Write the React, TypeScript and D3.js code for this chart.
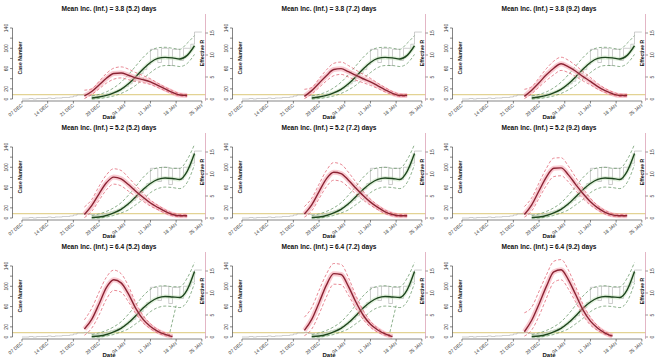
import React from 'react';
import * as d3 from 'd3';

const parse = d3.timeParse('%Y-%m-%d');

// panel titles
const incubation = ['3.8', '5.2', '6.4'];
const infectious = ['5.2', '7.2', '9.2'];

// axes
const dateTicks = ['2019-12-07', '2019-12-14', '2019-12-21', '2019-12-28', '2020-01-04', '2020-01-11', '2020-01-18', '2020-01-25'];
const dateTickLabels = ['07 DEC', '14 DEC', '21 DEC', '28 DEC', '04 JAN', '11 JAN', '18 JAN', '25 JAN'];
const caseTicks = [0, 20, 40, 60, 80, 100, 120, 140];
const caseTickLabels = [0, 20, 60, 100, 140];
const rTicks = [0, 5, 10, 15];

// observed daily cases, 07 Dec 2019 .. 25 Jan 2020
const observedStart = '2019-12-07';
const observedCases = [
  0, 0, 1, 0, 1, 1, 1, 2, 1, 2, 2, 3, 3, 4, 6, 8, 8, 9, 7, 6, 5, 6, 8, 10, 12,
  14, 17, 21, 25, 30, 35, 42, 50, 58, 68, 98, 98, 72, 100, 100, 66, 98, 98, 76, 100, 100, 108, 132, 132, 132,
];

// effective R estimates (mid / upper / lower), sampled every two days
const rDates = ['2019-12-24', '2019-12-26', '2019-12-28', '2019-12-30', '2020-01-01', '2020-01-03', '2020-01-05', '2020-01-07', '2020-01-09', '2020-01-11', '2020-01-13', '2020-01-15', '2020-01-17', '2020-01-19', '2020-01-21'];

const rMid11 = [0.7, 1.7, 3.2, 4.7, 5.8, 5.9, 5.4, 4.8, 4.4, 3.9, 3.1, 2.3, 1.5, 0.9, 0.8];
const rUp11 = [2.0, 2.3, 4.0, 5.8, 7.0, 7.3, 6.8, 6.0, 5.3, 4.6, 3.6, 2.7, 1.9, 1.2, 1.0];
const rLo11 = [0.1, 1.0, 2.3, 3.6, 4.5, 4.8, 4.4, 4.0, 3.7, 3.3, 2.6, 1.9, 1.2, 0.7, 0.6];
const rMid12 = [0.6, 1.9, 3.6, 5.3, 6.7, 6.9, 6.2, 5.4, 4.6, 3.9, 3.0, 2.1, 1.3, 0.8, 0.8];
const rUp12 = [2.2, 2.6, 4.6, 6.6, 8.1, 8.4, 7.6, 6.6, 5.6, 4.7, 3.6, 2.6, 1.7, 1.1, 1.0];
const rLo12 = [0.1, 1.1, 2.6, 4.1, 5.3, 5.6, 5.0, 4.3, 3.7, 3.1, 2.4, 1.6, 1.0, 0.6, 0.6];
const rMid13 = [0.6, 2.0, 3.7, 5.5, 7.0, 8.0, 7.3, 6.3, 5.1, 4.0, 2.8, 1.9, 1.2, 0.8, 0.8];
const rUp13 = [2.2, 2.8, 4.8, 6.9, 8.6, 9.5, 8.8, 7.6, 6.2, 4.9, 3.5, 2.4, 1.6, 1.1, 1.0];
const rLo13 = [0.1, 1.2, 2.7, 4.2, 5.5, 6.5, 6.0, 5.1, 4.1, 3.2, 2.2, 1.5, 0.9, 0.6, 0.6];

const rMid21 = [0.8, 2.8, 5.5, 8.0, 9.3, 8.9, 7.6, 6.1, 4.7, 3.4, 2.4, 1.5, 0.8, 0.5, 0.5];
const rUp21 = [2.5, 4.2, 7.2, 9.8, 11.2, 10.8, 9.2, 7.4, 5.7, 4.1, 2.9, 1.9, 1.1, 0.8, 0.7];
const rLo21 = [0.1, 1.5, 4.0, 6.4, 7.7, 7.3, 6.1, 4.9, 3.8, 2.7, 1.9, 1.1, 0.5, 0.3, 0.3];
const rMid22 = [0.9, 3.0, 6.0, 8.9, 10.4, 10.1, 8.6, 6.8, 5.1, 3.6, 2.4, 1.4, 0.8, 0.5, 0.5];
const rUp22 = [2.6, 4.5, 7.7, 10.8, 12.6, 12.2, 10.4, 8.2, 6.1, 4.3, 2.9, 1.8, 1.1, 0.8, 0.7];
const rLo22 = [0.2, 1.6, 4.4, 7.1, 8.6, 8.3, 7.0, 5.5, 4.1, 2.9, 1.9, 1.0, 0.5, 0.3, 0.3];
const rMid23 = [0.8, 3.0, 6.2, 9.3, 11.3, 11.4, 9.8, 7.6, 5.5, 3.7, 2.3, 1.3, 0.7, 0.5, 0.5];
const rUp23 = [2.6, 4.6, 8.0, 11.3, 13.6, 13.7, 11.8, 9.2, 6.7, 4.5, 2.8, 1.7, 1.0, 0.8, 0.7];
const rLo23 = [0.2, 1.6, 4.5, 7.4, 9.4, 9.6, 8.2, 6.2, 4.4, 2.9, 1.8, 0.9, 0.4, 0.3, 0.3];

const rMid31 = [1.8, 4.0, 7.5, 11.2, 13.0, 12.3, 9.8, 6.5, 4.0, 2.4, 1.3, 0.6, 0.1, null, null];
const rUp31 = [3.9, 6.5, 10.2, 13.6, 15.2, 14.4, 11.6, 7.8, 4.9, 3.0, 1.7, 0.9, 0.3, null, null];
const rLo31 = [0.4, 2.0, 5.0, 8.6, 10.6, 10.2, 8.0, 5.3, 3.2, 1.9, 0.9, 0.3, 0.0, null, null];
const rMid32 = [1.5, 4.0, 7.8, 11.8, 14.4, 14.2, 11.5, 8.0, 5.0, 2.9, 1.6, 0.7, 0.1, null, null];
const rUp32 = [4.5, 6.7, 10.6, 14.3, 16.7, 16.5, 13.5, 9.5, 6.1, 3.6, 2.0, 0.9, 0.3, null, null];
const rLo32 = [0.3, 1.8, 5.2, 9.1, 12.0, 11.9, 9.5, 6.5, 4.0, 2.2, 1.1, 0.4, 0.0, null, null];
const rMid33 = [1.2, 3.8, 7.5, 11.5, 14.8, 15.3, 13.0, 9.6, 6.1, 3.6, 2.0, 0.9, 0.2, null, null];
const rUp33 = [5.5, 6.8, 10.4, 14.1, 17.2, 17.6, 15.2, 11.4, 7.4, 4.5, 2.5, 1.2, 0.4, null, null];
const rLo33 = [0.2, 1.6, 4.8, 8.8, 12.4, 13.0, 10.9, 7.9, 4.9, 2.7, 1.5, 0.6, 0.0, null, null];

// fitted case numbers per row (mid / upper / lower)
const caseDates = ['2019-12-26', '2019-12-28', '2019-12-30', '2020-01-01', '2020-01-03', '2020-01-05', '2020-01-07', '2020-01-09', '2020-01-11', '2020-01-13', '2020-01-15', '2020-01-17', '2020-01-19', '2020-01-21', '2020-01-23'];
const caseMid1 = [2, 4, 7, 12, 19, 30, 44, 59, 72, 80, 82, 81, 79, 86, 105];
const caseUp1 = [6, 9, 14, 22, 33, 48, 65, 82, 95, 101, 102, 100, 98, 110, 125];
const caseLo1 = [0, 1, 3, 6, 11, 18, 27, 40, 52, 62, 66, 66, 64, 70, 88];
const caseMid2 = [1, 2, 5, 10, 17, 28, 42, 56, 68, 76, 79, 78, 76, 92, 127];
const caseUp2 = [5, 8, 13, 20, 30, 45, 62, 80, 93, 99, 100, 98, 98, 115, 145];
const caseLo2 = [0, 0, 2, 5, 10, 16, 26, 37, 50, 58, 61, 60, 58, 70, 105];
const caseMid3 = [1, 2, 5, 10, 17, 28, 42, 57, 69, 77, 80, 79, 78, 93, 129];
const caseUp3 = [5, 8, 13, 20, 30, 45, 63, 81, 94, 100, 101, 99, 99, 116, 147];
const caseLo3 = [0, 0, 2, 5, 10, 16, 26, 37, 50, 58, 61, 60, 58, 70, 106];

// lower bound break seen in the bottom row (first two panels)
const dropDates = ['2020-01-16', '2020-01-18'];
const dropCases = [0, 62];
const dropCols = [0, 1];

const rTable = [
  [[rMid11, rUp11, rLo11], [rMid12, rUp12, rLo12], [rMid13, rUp13, rLo13]],
  [[rMid21, rUp21, rLo21], [rMid22, rUp22, rLo22], [rMid23, rUp23, rLo23]],
  [[rMid31, rUp31, rLo31], [rMid32, rUp32, rLo32], [rMid33, rUp33, rLo33]],
];
const caseTable = [
  [caseMid1, caseUp1, caseLo1],
  [caseMid2, caseUp2, caseLo2],
  [caseMid3, caseUp3, caseLo3],
];

const W = 660;
const H = 361;
const panelW = 220;
const panelH = 119;
const font = '"Liberation Sans", Arial, sans-serif';

const x = d3.scaleTime()
  .domain([new Date(2019, 11, 4, 10), new Date(2020, 0, 26, 0)])
  .range([12.5, 205.5]);
const yCase = d3.scaleLinear().domain([0, 140]).range([99, 28]);
const yR = d3.scaleLinear().domain([0, 15]).range([99, 33]);

type Pt = { date: Date; v: number | null };
const toPts = (dates: string[], vals: (number | null)[]): Pt[] =>
  dates.map((d, i) => ({ date: parse(d) as Date, v: vals[i] }));

const observedPts: Pt[] = observedCases.map((v, i) => ({
  date: d3.timeDay.offset(parse(observedStart) as Date, i),
  v,
}));

const stepLine = d3.line<Pt>()
  .x(d => x(d.date))
  .y(d => yCase(d.v as number))
  .curve(d3.curveStepAfter);

const caseLine = d3.line<Pt>()
  .defined(d => d.v !== null)
  .x(d => x(d.date))
  .y(d => yCase(d.v as number))
  .curve(d3.curveMonotoneX);

const rLine = d3.line<Pt>()
  .defined(d => d.v !== null)
  .x(d => x(d.date))
  .y(d => yR(d.v as number))
  .curve(d3.curveMonotoneX);

const Panel: React.FC<{ row: number; col: number }> = ({ row, col }) => {
  const [rMid, rUp, rLo] = rTable[row][col];
  const [cMid, cUp, cLo] = caseTable[row];
  const cx = (x.range()[0] + x.range()[1]) / 2;
  const axisY = 101;
  const x0 = x.range()[0];
  const x1 = x.range()[1];
  return (
    <g transform={`translate(${col * panelW},${row * panelH})`}>
      <text x={cx} y={11} textAnchor="middle" fontWeight="bold" fontSize={6.6} fill="#111">
        {`Mean Inc. (Inf.) = ${incubation[row]} (${infectious[col]}) days`}
      </text>

      {/* R = 1 reference */}
      <line x1={x0} x2={x1} y1={yR(1)} y2={yR(1)} stroke="#e3d394" strokeWidth={1.2} />

      {/* observed cases */}
      <path d={stepLine(observedPts) || ''} fill="none" stroke="#ababab" strokeWidth={0.6} />

      {/* fitted cases */}
      <path d={caseLine(toPts(caseDates, cMid)) || ''} fill="none" stroke="#bfe0b4" strokeWidth={4} strokeOpacity={0.45} />
      <path d={caseLine(toPts(caseDates, cUp)) || ''} fill="none" stroke="#5c8f5c" strokeWidth={0.7} strokeDasharray="3,2" />
      <path d={caseLine(toPts(caseDates, cLo)) || ''} fill="none" stroke="#5c8f5c" strokeWidth={0.7} strokeDasharray="3,2" />
      {row === 2 && dropCols.includes(col) && (
        <path d={caseLine(toPts(dropDates, dropCases)) || ''} fill="none" stroke="#5c8f5c" strokeWidth={0.7} strokeDasharray="3,2" />
      )}
      <path d={caseLine(toPts(caseDates, cMid)) || ''} fill="none" stroke="#1e461e" strokeWidth={1.4} />

      {/* effective R */}
      <path d={rLine(toPts(rDates, rMid)) || ''} fill="none" stroke="#f5a3ae" strokeWidth={5} strokeOpacity={0.55} />
      <path d={rLine(toPts(rDates, rUp)) || ''} fill="none" stroke="#de5566" strokeWidth={0.7} strokeDasharray="3,2" />
      <path d={rLine(toPts(rDates, rLo)) || ''} fill="none" stroke="#de5566" strokeWidth={0.7} strokeDasharray="3,2" />
      <path d={rLine(toPts(rDates, rMid)) || ''} fill="none" stroke="#8c2434" strokeWidth={1.4} />

      {/* left axis */}
      <g stroke="#333" strokeWidth={0.6}>
        <line x1={x0} x2={x0} y1={yCase(0)} y2={yCase(140)} />
        {caseTicks.map(t => (
          <line key={t} x1={x0 - 2.5} x2={x0} y1={yCase(t)} y2={yCase(t)} />
        ))}
      </g>
      {caseTickLabels.map(t => (
        <text key={t} transform={`translate(${x0 - 4.5},${yCase(t)}) rotate(-90)`} textAnchor="middle" fontSize={5} fill="#333">
          {t}
        </text>
      ))}
      <text transform={`translate(${x0 + 9.5},58) rotate(-90)`} textAnchor="middle" fontSize={5.1} fontWeight="bold" fill="#111">
        Case Number
      </text>

      {/* right axis */}
      <line x1={x1} x2={x1} y1={14} y2={axisY} stroke="#dca3b6" strokeWidth={0.8} />
      {rTicks.map(t => (
        <line key={t} x1={x1} x2={x1 + 2.5} y1={yR(t)} y2={yR(t)} stroke="#555" strokeWidth={0.6} />
      ))}
      {rTicks.map(t => (
        <text key={t} transform={`translate(${x1 + 8.5},${yR(t)}) rotate(-90)`} textAnchor="middle" fontSize={5} fill="#333">
          {t}
        </text>
      ))}
      <text transform={`translate(${x1 - 1.8},53) rotate(-90)`} textAnchor="middle" fontSize={5.1} fontWeight="bold" fill="#111">
        Effective R
      </text>

      {/* bottom axis */}
      <g stroke="#333" strokeWidth={0.6}>
        <line x1={x(parse(dateTicks[0]) as Date)} x2={x(parse(dateTicks[dateTicks.length - 1]) as Date)} y1={axisY} y2={axisY} />
        {dateTicks.map(t => (
          <line key={t} x1={x(parse(t) as Date)} x2={x(parse(t) as Date)} y1={axisY} y2={axisY + 2.5} />
        ))}
      </g>
      {dateTicks.map((t, i) => (
        <text key={t} transform={`translate(${x(parse(t) as Date) + 1},${axisY + 5}) rotate(-40)`} textAnchor="end" fontSize={4.8} fill="#333">
          {dateTickLabels[i]}
        </text>
      ))}
      <text x={cx} y={119} textAnchor="middle" fontSize={6} fontWeight="bold" fill="#111">
        Date
      </text>
    </g>
  );
};

const App: React.FC = () => {
  const rows = [0, 1, 2];
  const cols = [0, 1, 2];
  return (
    <svg width={W} height={H} style={{ position: 'absolute', left: 0, top: 0, background: '#fff' }} fontFamily={font}>
      <rect width={W} height={H} fill="#fff" />
      {rows.map(r => cols.map(c => <Panel key={`${r}-${c}`} row={r} col={c} />))}
    </svg>
  );
};

export default App;
